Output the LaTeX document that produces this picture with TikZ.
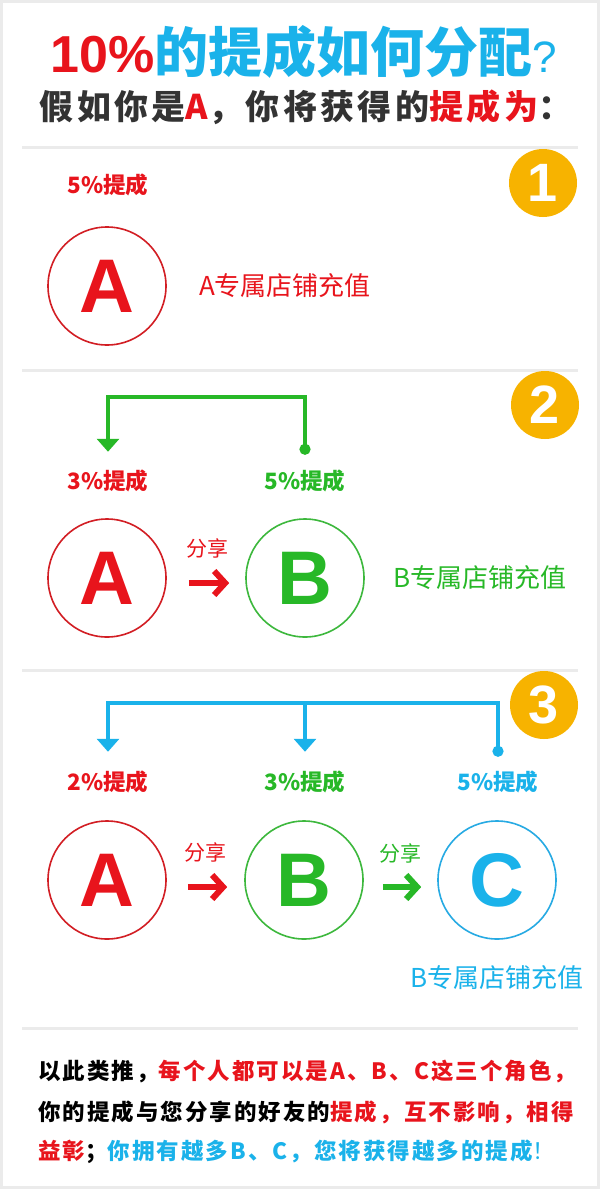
\documentclass[tikz,border=0pt]{standalone}
\usepackage{fontspec}
\setmainfont{Liberation Sans}
\newfontfamily\cjk{Noto Sans CJK SC}
\newfontfamily\cjksp{Noto Sans CJK SC}[LetterSpace=9]
\newfontfamily\cjkwide{Noto Sans CJK SC}[LetterSpace=10]
\usetikzlibrary{arrows.meta,positioning}
\definecolor{tred}{HTML}{E8141C}
\definecolor{tgreen}{HTML}{27B827}
\definecolor{tcyan}{HTML}{1AB2EA}
\definecolor{tgold}{HTML}{F7B300}
\definecolor{tdark}{HTML}{333333}
\definecolor{ringred}{HTML}{D21E24}
\definecolor{ringgreen}{HTML}{3DB83D}
\definecolor{ringcyan}{HTML}{27AAE3}
\definecolor{sepgray}{HTML}{EBEBEB}
\newcommand\fsz[1]{\fontsize{#1}{#1}\selectfont}
\begin{document}
\begin{tikzpicture}[x=1pt, y=-1pt, every node/.style={inner sep=0pt},
	sepline/.style={line width=3pt, sepgray},
	badge/.style={circle, fill=tgold, minimum size=68pt, text=white, font=\fsz{54}\bfseries},
	pct/.style={font=\cjk\fsz{22.5}\bfseries},
	ring/.style={circle, draw, line width=1.6pt, minimum size=118pt, font=\fsz{76}\bfseries},
	shop/.style={font=\cjk\fsz{26}},
	share/.style={font=\cjk\fsz{21}},
	sharearrow/.style={line width=6pt, -{Straight Barb[length=11pt,width=24pt]}},
	bracket/.style={line width=3.5pt},
	downtip/.style={-{Triangle[width=22pt,length=13pt]}},
	dottip/.style={{Circle[length=11pt]}-{Triangle[width=22pt,length=13pt]}},
	note/.style={font=\cjksp\fsz{22.5}\bfseries, anchor=west}]
	\useasboundingbox (0,0) rectangle (600,1189);
	\fill[white] (0,0) rectangle (600,1189);
	\draw[line width=3pt, sepgray] (1.5,1.5) rectangle (598.5,1187.5);
	% titre
	\node (title) at (304,52) {\fsz{52}\bfseries\color{tred}10\%\cjk\fsz{54}\color{tcyan}的提成如何分配{\normalfont\fsz{44}?}};
	\node (sub) at (306,107) {\cjkwide\fsz{34}\bfseries\color{tdark}假如你是{\color{tred}A}，你将获得的{\color{tred}提成为}：};
	\foreach \y in {147,370,670,1028} \draw[sepline] (22,\y) -- (578,\y);
	% 1
	\node[badge] (n1) at (543,183) {1};
	\node[pct, text=tred] (p1a) at (108,185) {5\%提成};
	\node[ring, draw=ringred, text=tred] (c1a) at (107,286) {A};
	\node[shop, text=tred, right=32pt of c1a] (s1) {A专属店铺充值};
	% 2
	\node[badge] (n2) at (545,405) {2};
	\node[pct, text=tred] (p2a) at (108,481) {3\%提成};
	\node[pct, text=tgreen] (p2b) at (305,481) {5\%提成};
	\node[ring, draw=ringred, text=tred] (c2a) at (107,578) {A};
	\node[ring, draw=ringgreen, text=tgreen] (c2b) at (305,578) {B};
	\node[shop, text=tgreen, right=28pt of c2b] (s2) {B专属店铺充值};
	\node[share, text=tred] (f2) at (207,548) {分享};
	\draw[sharearrow, tred] ([xshift=22pt,yshift=-5pt]c2a.east) -- ([xshift=-16pt,yshift=-5pt]c2b.west);
	\coordinate (bar2) at (0,397);
	\coordinate (e2a) at ([yshift=18pt]p2a.north);
	\coordinate (e2b) at ([yshift=15pt]p2b.north);
	\draw[bracket, tgreen, dottip] (e2b) -- (e2b |- bar2) -- (e2a |- bar2) -- (e2a);
	% 3
	\node[badge] (n3) at (544,705) {3};
	\node[pct, text=tred] (p3a) at (108,782) {2\%提成};
	\node[pct, text=tgreen] (p3b) at (305,782) {3\%提成};
	\node[pct, text=tcyan] (p3c) at (498,782) {5\%提成};
	\node[ring, draw=ringred, text=tred] (c3a) at (107,880) {A};
	\node[ring, draw=ringgreen, text=tgreen] (c3b) at (304,880) {B};
	\node[ring, draw=ringcyan, text=tcyan] (c3c) at (497,880) {C};
	\node[shop, text=tcyan, below=26pt of c3c] (s3) {B专属店铺充值};
	\node[share, text=tred] (f3a) at (205,852) {分享};
	\node[share, text=tgreen] (f3b) at (400,853) {分享};
	\draw[sharearrow, tred] ([xshift=21pt,yshift=-7pt]c3a.east) -- ([xshift=-17pt,yshift=-7pt]c3b.west);
	\draw[sharearrow, tgreen] ([xshift=19pt,yshift=-7pt]c3b.east) -- ([xshift=-16pt,yshift=-7pt]c3c.west);
	\coordinate (bar3) at (0,703);
	\coordinate (e3a) at ([yshift=19pt]p3a.north);
	\coordinate (e3b) at ([yshift=19pt]p3b.north);
	\coordinate (e3c) at ([yshift=14pt]p3c.north);
	\draw[bracket, tcyan, dottip] (e3c) -- (e3c |- bar3) -- (e3a |- bar3) -- (e3a);
	\draw[bracket, tcyan, downtip] (e3b |- bar3) -- (e3b);
	% bas
	\node[note] (l1) at (38,1071) {以此类推，{\color{tred}每个人都可以是A、B、C这三个角色，}};
	\node[note] (l2) at (38,1112) {你的提成与您分享的好友的{\color{tred}提成，互不影响，相得}};
	\node[note] (l3) at (38,1152) {{\color{tred}益彰}；{\color{tcyan}你拥有越多B、C，您将获得越多的提成{\mdseries ！}}};
\end{tikzpicture}
\end{document}
